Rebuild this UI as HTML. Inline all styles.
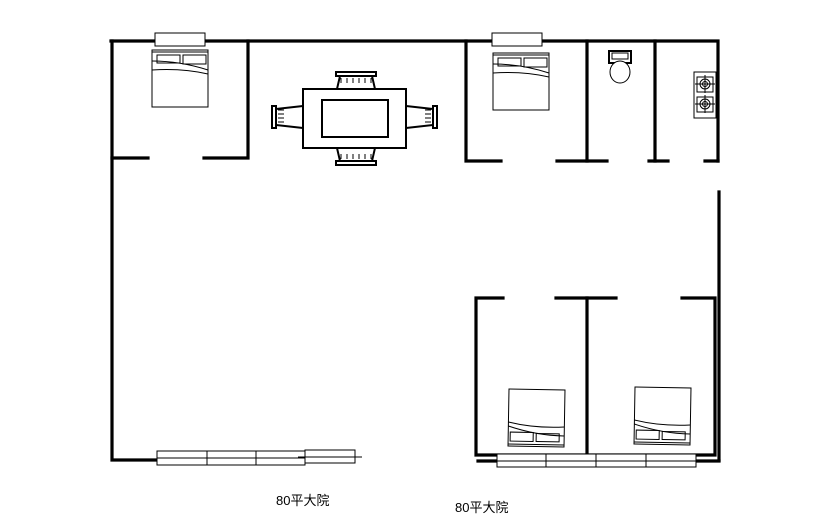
<!DOCTYPE html>
<html><head><meta charset="utf-8"><style>
html,body{margin:0;padding:0;background:#fff;width:814px;height:519px;overflow:hidden}
svg{display:block}
text{font-family:"Liberation Sans","Noto Sans CJK SC",sans-serif;font-size:13px;fill:#000}
</style></head><body>
<svg width="814" height="519" viewBox="0 0 814 519" xmlns="http://www.w3.org/2000/svg">
<defs>
<g id="bed">
<rect x="0" y="0" width="56" height="57" fill="#fff" stroke="#000" stroke-width="1"/>
<line x1="0" y1="2" x2="56" y2="2" stroke="#000" stroke-width="1"/>
<rect x="5" y="5" width="23" height="8" fill="none" stroke="#000" stroke-width="1"/>
<rect x="31" y="5" width="23" height="9" fill="none" stroke="#000" stroke-width="1"/>
<path d="M0 11 Q28 11 56 20" fill="none" stroke="#000" stroke-width="1"/>
<path d="M0 20 Q30 18 56 24" fill="none" stroke="#000" stroke-width="1"/>
</g>
</defs>
<g fill="none" stroke="#000" stroke-width="3.2" stroke-linecap="square">
<path d="M111 41 H718 V161"/>
<path d="M112 41 V460 H160"/>
<path d="M248 41 V158 H204"/>
<path d="M112 158 H148"/>
<path d="M466 41 V161 H501"/>
<path d="M557 161 H607"/>
<path d="M587 41 V161"/>
<path d="M655 41 V161"/>
<path d="M649 161 H668"/>
<path d="M705 161 H718"/>
<path d="M719 192 V460"/>
<path d="M503 298 H476 V455 H587"/>
<path d="M556 298 H616"/>
<path d="M587 298 V455 H715 V298 H682"/>
<path d="M478 461 H497"/>
<path d="M696 461 H719"/>
</g>
<g fill="#fff" stroke="#000" stroke-width="1">
<rect x="155" y="33" width="50" height="13"/>
<rect x="492" y="33" width="50" height="13"/>
<rect x="157" y="451" width="50" height="14"/><line x1="157" y1="458" x2="207" y2="458"/>
<rect x="207" y="451" width="49" height="14"/><line x1="207" y1="458" x2="256" y2="458"/>
<rect x="256" y="451" width="49" height="14"/><line x1="256" y1="458" x2="305" y2="458"/>
<rect x="305" y="450" width="50" height="13"/><line x1="298" y1="457" x2="362" y2="457"/>
<rect x="497" y="454" width="49" height="13"/><line x1="497" y1="461" x2="546" y2="461"/>
<rect x="546" y="454" width="50" height="13"/><line x1="546" y1="461" x2="596" y2="461"/>
<rect x="596" y="454" width="50" height="13"/><line x1="596" y1="461" x2="646" y2="461"/>
<rect x="646" y="454" width="50" height="13"/><line x1="646" y1="461" x2="696" y2="461"/>
</g>
<use href="#bed" x="152" y="50"/>
<use href="#bed" x="493" y="53"/>
<use href="#bed" transform="translate(564 447) rotate(181)"/>
<use href="#bed" transform="translate(690 445) rotate(181)"/>
<g fill="#fff" stroke="#000" stroke-width="2">
<path d="M340 76 L337 89 H375 L372 76 Z"/>
<rect x="336" y="72" width="40" height="4"/>
<path d="M340 161 L337 148 H375 L372 161 Z"/>
<rect x="336" y="161" width="40" height="4"/>
<path d="M276 109 L303 106 V128 L276 125 Z"/>
<rect x="272" y="106" width="4" height="22"/>
<path d="M433 109 L406 106 V128 L433 125 Z"/>
<rect x="433" y="106" width="4" height="22"/>
<rect x="303" y="89" width="103" height="59"/>
<rect x="322" y="100" width="66" height="37"/>
</g>
<g stroke="#000" stroke-width="1">
<line x1="341" y1="78" x2="341" y2="83"/><line x1="347" y1="78" x2="347" y2="83"/><line x1="353" y1="78" x2="353" y2="83"/><line x1="359" y1="78" x2="359" y2="83"/><line x1="365" y1="78" x2="365" y2="83"/><line x1="371" y1="78" x2="371" y2="83"/>
<line x1="341" y1="154" x2="341" y2="159"/><line x1="347" y1="154" x2="347" y2="159"/><line x1="353" y1="154" x2="353" y2="159"/><line x1="359" y1="154" x2="359" y2="159"/><line x1="365" y1="154" x2="365" y2="159"/><line x1="371" y1="154" x2="371" y2="159"/>
<line x1="278" y1="110" x2="284" y2="110"/><line x1="278" y1="114" x2="284" y2="114"/><line x1="278" y1="118" x2="284" y2="118"/><line x1="278" y1="122" x2="284" y2="122"/>
<line x1="425" y1="110" x2="431" y2="110"/><line x1="425" y1="114" x2="431" y2="114"/><line x1="425" y1="118" x2="431" y2="118"/><line x1="425" y1="122" x2="431" y2="122"/>
</g>
<g fill="#fff" stroke="#000" stroke-width="1">
<rect x="609" y="51" width="22" height="12" stroke-width="2"/>
<ellipse cx="620" cy="72" rx="10" ry="11"/>
<rect x="612" y="53" width="16" height="6"/>
</g>
<g fill="#fff" stroke="#000" stroke-width="1">
<rect x="694" y="72" width="22" height="46"/>
<rect x="697" y="77" width="16" height="15"/>
<circle cx="705" cy="84" r="5"/><circle cx="705" cy="84" r="2.5"/>
<line x1="695" y1="84" x2="715" y2="84"/><line x1="705" y1="75" x2="705" y2="93"/>
<rect x="697" y="97" width="16" height="15"/>
<circle cx="705" cy="104" r="5"/><circle cx="705" cy="104" r="2.5"/>
<line x1="695" y1="104" x2="715" y2="104"/><line x1="705" y1="95" x2="705" y2="113"/>
</g>
<text x="276" y="505">80平大院</text>
<text x="455" y="512">80平大院</text>
</svg>
</body></html>
